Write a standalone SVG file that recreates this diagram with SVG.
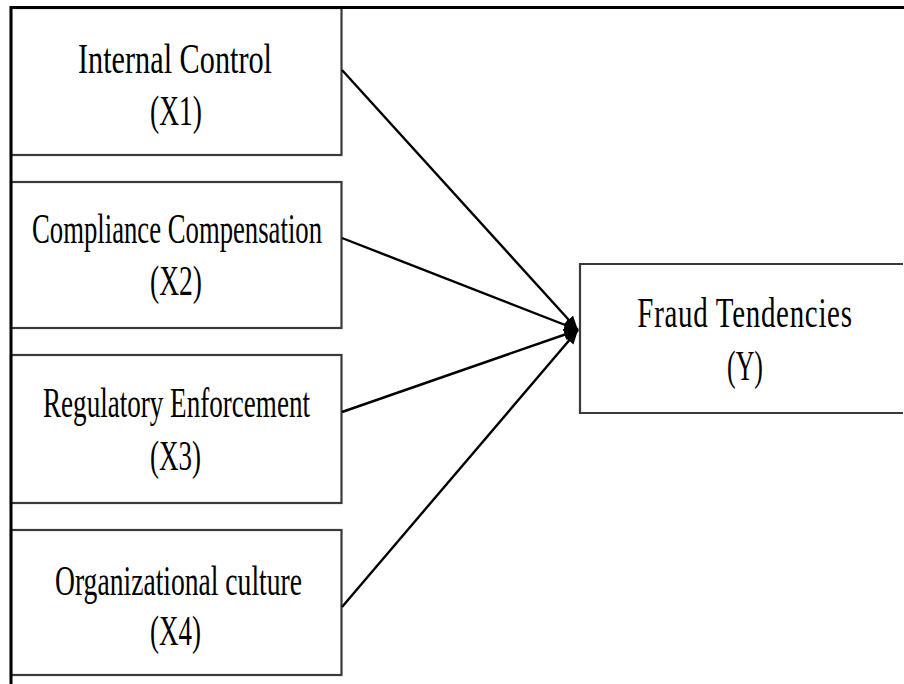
<svg xmlns="http://www.w3.org/2000/svg" width="904" height="684" viewBox="0 0 904 684">
<style>
.box{fill:#fff;stroke:#3a3a3a;stroke-width:2.2}
.t{font-family:"Liberation Serif","Times New Roman",serif;font-size:42px;fill:#000;text-anchor:middle}
.c{stroke:#000;stroke-width:2.4;fill:none}
.frame{stroke:#000;stroke-width:3;fill:none}
</style>
<defs>
<marker id="ah" markerUnits="userSpaceOnUse" markerWidth="16" markerHeight="12" refX="14" refY="6" orient="auto">
<path d="M0,0 L14,6 L0,12 Z" fill="#000"/>
</marker>
</defs>
<rect width="904" height="684" fill="#fff"/>
<g id="x1">
<rect class="box" x="11" y="8" width="330.5" height="147"/>
<text class="t" x="175" y="73" textLength="194" lengthAdjust="spacingAndGlyphs">Internal Control</text>
<text class="t" x="176" y="125" textLength="52" lengthAdjust="spacingAndGlyphs">(X1)</text>
</g>
<g id="x2">
<rect class="box" x="11" y="182" width="330.5" height="146"/>
<text class="t" x="177" y="243" textLength="290" lengthAdjust="spacingAndGlyphs">Compliance Compensation</text>
<text class="t" x="176" y="295" textLength="52" lengthAdjust="spacingAndGlyphs">(X2)</text>
</g>
<g id="x3">
<rect class="box" x="11" y="355" width="330.5" height="148"/>
<text class="t" x="176.5" y="417" textLength="267" lengthAdjust="spacingAndGlyphs">Regulatory Enforcement</text>
<text class="t" x="175.5" y="470" textLength="51" lengthAdjust="spacingAndGlyphs">(X3)</text>
</g>
<g id="x4">
<rect class="box" x="11" y="530" width="330.5" height="145"/>
<text class="t" x="178.5" y="595" textLength="247" lengthAdjust="spacingAndGlyphs">Organizational culture</text>
<text class="t" x="175.5" y="645" textLength="51" lengthAdjust="spacingAndGlyphs">(X4)</text>
</g>
<g id="y">
<path d="M903,264 H580 V413 H903" fill="none" stroke="#3a3a3a" stroke-width="2.2"/>
<text class="t" transform="translate(745,327) scale(0.69,1)" x="0" y="0" letter-spacing="1">Fraud Tendencies</text>
<text class="t" x="745" y="380" textLength="36" lengthAdjust="spacingAndGlyphs">(Y)</text>
</g>
<g id="connectors">
<line class="c" x1="342" y1="70" x2="578" y2="330" marker-end="url(#ah)"/>
<line class="c" x1="342" y1="238" x2="578" y2="330" marker-end="url(#ah)"/>
<line class="c" x1="342" y1="412" x2="578" y2="330" marker-end="url(#ah)"/>
<line class="c" x1="342" y1="607" x2="578" y2="330" marker-end="url(#ah)"/>
</g>
<g id="frame">
<line class="frame" x1="10" y1="7.5" x2="904" y2="7.5"/>
<line class="frame" x1="11" y1="6" x2="11" y2="684"/>
</g>
</svg>
